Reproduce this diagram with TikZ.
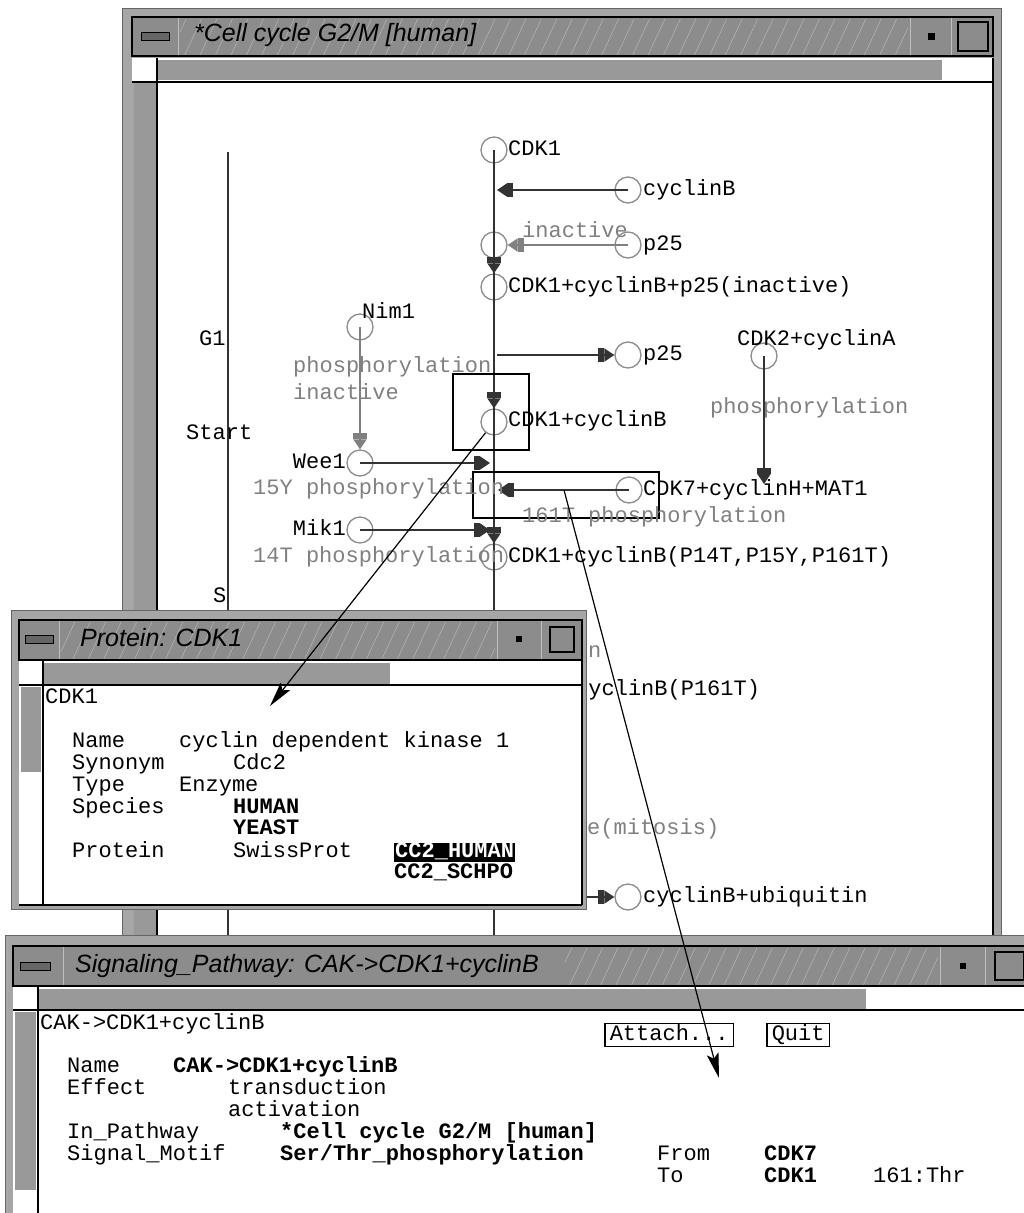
\documentclass[tikz,border=0pt]{standalone}
\usepackage{fontspec}
\setmonofont{Liberation Mono}
\setsansfont{Liberation Sans}
\usetikzlibrary{arrows.meta,patterns.meta}
\tikzset{
  spc/.style={circle,draw=black!45,line width=1.3pt,minimum size=26pt,inner sep=0pt},
  lbl/.style={font=\ttfamily\fontsize{22}{24}\selectfont,inner sep=0pt,text height=15pt,text depth=4pt,anchor=west},
  glbl/.style={lbl,text=black!50},
  blbl/.style={lbl,font=\ttfamily\bfseries\fontsize{22}{24}\selectfont},
  wtitle/.style={font=\sffamily\itshape\fontsize{25}{28}\selectfont,inner sep=0pt,anchor=west},
  link/.style={line width=1.5pt,draw=black!80},
  glink/.style={line width=1.5pt,draw=black!50},
  ract/.style={link,-{Rectangle[length=6pt,width=14pt]Triangle[length=10pt,width=13pt]}},
  gract/.style={glink,-{Rectangle[length=6pt,width=14pt]Triangle[length=10pt,width=13pt]}},
  pick/.style={line width=1.2pt,-{Stealth[length=25pt,width=12pt,inset=5pt]}},
  wframe/.style={fill=black!35,draw=black!60,line width=1pt},
  tbar/.style={fill=black!45,draw=black,line width=1.5pt},
  hatch/.style={pattern={Lines[angle=65,distance=14pt,line width=0.6pt]},pattern color=black!30},
  dither/.style={fill=black!40},
  sep/.style={draw=black!25,line width=1pt},
  hbox/.style={draw=black,line width=1.5pt},
  btn/.style={lbl,draw,line width=1.5pt,inner xsep=5pt,inner ysep=2pt}
}
\begin{document}
\begin{tikzpicture}[x=1pt,y=-1pt]
\clip (0,0) rectangle (1024,1213);
\fill[white] (0,0) rectangle (1024,1213);

% cell cycle window
\draw[wframe] (122,8) rectangle (1001,960);
\draw[tbar] (132,17) rectangle (993,56);
\fill[hatch] (180,19) rectangle (908,54);
\draw[sep] (178,18) -- (178,55) (910,18) -- (910,55) (951,18) -- (951,55);
\draw[fill=black!60,line width=1pt] (141,32) rectangle (169,40);
\node[wtitle] (mtitle) at (194,35) {*Cell cycle G2/M [human]};
\fill (928,33) rectangle (935,40);
\draw[line width=2pt,fill=black!45] (958,22) rectangle (988,51);
\fill[white] (132,58) rectangle (993,82);
\fill[dither] (157,60) rectangle (942,80);
\draw[line width=1.5pt] (132,82) -- (993,82);
\fill[white] (157,83) rectangle (993,960);
\fill[dither] (134,83) rectangle (156,960);
\draw[line width=1.5pt] (157,58) -- (157,960) (993,58) -- (993,960);

% phases
\draw[link] (228,152) -- (228,960);
\node[lbl] (g1) at (199,340) {G1};
\node[lbl] (start) at (186,434) {Start};
\node[lbl] (sph) at (213,597) {S};

% species
\node[spc] (cdk1) at (494,150) {};
\node[spc] (cplx) at (494,245) {};
\node[spc] (cbp) at (494,287) {};
\node[spc] (cb) at (494,422) {};
\node[spc] (cbp3) at (494,557) {};
\node[spc] (cycb) at (628,190) {};
\node[spc] (p25a) at (628,245) {};
\node[spc] (p25b) at (628,355) {};
\node[spc] (nim1) at (360,327) {};
\node[spc] (wee1) at (360,463) {};
\node[spc] (mik1) at (360,530) {};
\node[spc] (cdk7) at (629,490) {};
\node[spc] (cdk2) at (764,356) {};
\node[spc] (ubq) at (628,897) {};

\coordinate (bot) at (494,960);
\coordinate (rcyc) at (494,190);
\coordinate (rp25) at (494,355);
\coordinate (rwee) at (494,463);
\coordinate (rcak) at (494,490);
\coordinate (rmik) at (494,530);
\coordinate (rubq) at (494,897);
\coordinate (rcdk2) at (764,484);
\coordinate (r161) at (564,490);

\draw[link] (cdk1.center) -- (bot);
\draw[ract,shorten >=3pt] (cycb.center) -- (rcyc);
\draw[gract] (p25a.center) -- (cplx);
\draw[ract] (cplx) -- (cbp);
\draw[ract,shorten <=3pt] (rp25) -- (p25b);
\draw[ract] (cbp) -- (cb);
\draw[gract] (nim1.center) -- (wee1);
\draw[ract,shorten >=4pt] (wee1.center) -- (rwee);
\draw[ract,shorten >=4pt] (cdk7.center) -- (rcak);
\draw[ract,shorten >=4pt] (mik1.center) -- (rmik);
\draw[ract] (cb) -- (cbp3);
\draw[ract] (cdk2.center) -- (rcdk2);
\draw[ract] (rubq) -- (ubq);

\draw[hbox] (453,374) rectangle (529,450);
\draw[hbox] (473,472) rectangle (659,518);

\node[lbl] (tcdk1) at (508,150) {CDK1};
\node[lbl] (tcycb) at (643,190) {cyclinB};
\node[glbl] (tina) at (522,232) {inactive};
\node[lbl] (tp25a) at (643,245) {p25};
\node[lbl] (tcbp) at (508,287) {CDK1+cyclinB+p25(inactive)};
\node[lbl] (tnim1) at (362,313) {Nim1};
\node[lbl] (tp25b) at (643,355) {p25};
\node[lbl] (tcdk2) at (737,340) {CDK2+cyclinA};
\node[glbl] (tph1) at (293,367) {phosphorylation};
\node[glbl] (tina2) at (293,394) {inactive};
\node[glbl] (tph2) at (710,408) {phosphorylation};
\node[lbl] (tcb) at (508,421) {CDK1+cyclinB};
\node[lbl,anchor=east] (twee1) at (346,463) {Wee1};
\node[glbl] (t15y) at (253,489) {15Y phosphorylation};
\node[lbl] (tcdk7) at (643,490) {CDK7+cyclinH+MAT1};
\node[glbl] (t161) at (522,517) {161T phosphorylation};
\node[lbl,anchor=east] (tmik1) at (346,530) {Mik1};
\node[glbl] (t14t) at (253,557) {14T phosphorylation};
\node[lbl] (tcbp3) at (508,557) {CDK1+cyclinB(P14T,P15Y,P161T)};
\node[glbl] (tn) at (588,652) {n};
\node[lbl] (tp161) at (575,690) {cyclinB(P161T)};
\node[glbl] (tmit) at (587,829) {e(mitosis)};
\node[lbl] (tubq) at (643,897) {cyclinB+ubiquitin};

% protein window
\draw[wframe] (11,610) rectangle (586,909);
\draw[tbar] (19,620) rectangle (582,660);
\fill[hatch] (61,622) rectangle (495,658);
\draw[sep] (59,621) -- (59,659) (497,621) -- (497,659) (541,621) -- (541,659);
\draw[fill=black!60,line width=1pt] (25,635) rectangle (53,643);
\node[wtitle] (ptitle) at (80,638) {Protein: CDK1};
\fill (516,636) rectangle (522,642);
\draw[line width=2pt,fill=black!45] (550,627) rectangle (574,652);
\fill[white] (19,661) rectangle (582,905);
\fill[dither] (43,663) rectangle (390,684);
\fill[dither] (21,687) rectangle (41,772);
\draw[line width=1.5pt] (19,685) -- (582,685) (43,661) -- (43,905) (19,905) -- (582,905) (582,660) -- (582,905);

\node[lbl] (pname) at (45,698) {CDK1};
\node[lbl] (pk1) at (72,742) {Name};
\node[lbl] (pv1) at (179,742) {cyclin dependent kinase 1};
\node[lbl] (pk2) at (72,764) {Synonym};
\node[lbl] (pv2) at (233,764) {Cdc2};
\node[lbl] (pk3) at (72,786) {Type};
\node[lbl] (pv3) at (179,786) {Enzyme};
\node[lbl] (pk4) at (72,808) {Species};
\node[blbl] (pv4) at (233,808) {HUMAN};
\node[blbl] (pv5) at (233,829) {YEAST};
\node[lbl] (pk6) at (72,852) {Protein};
\node[lbl] (pv6) at (233,852) {SwissProt};
\node[blbl,fill=black,text=white,inner xsep=1pt] (pv7) at (394,852) {CC2\_HUMAN};
\node[blbl] (pv8) at (394,873) {CC2\_SCHPO};

% signaling pathway window
\draw[wframe] (5,935) rectangle (1030,1220);
\draw[tbar] (13,946) rectangle (1030,986);
\fill[hatch] (565,948) rectangle (938,984);
\draw[sep] (63,947) -- (63,985) (940,947) -- (940,985) (985,947) -- (985,985);
\draw[fill=black!60,line width=1pt] (20,962) rectangle (50,970);
\node[wtitle] (stitle) at (75,966) {Signaling\_Pathway: CAK->CDK1+cyclinB};
\fill (960,963) rectangle (966,969);
\draw[line width=2pt,fill=black!45] (995,952) rectangle (1024,980);
\fill[white] (13,987) rectangle (1030,1215);
\fill[dither] (38,989) rectangle (866,1009);
\fill[dither] (15,1012) rectangle (36,1190);
\draw[line width=1.5pt] (13,1010) -- (1030,1010) (38,987) -- (38,1215);

\node[lbl] (sname) at (40,1024) {CAK->CDK1+cyclinB};
\node[btn] (attach) at (604,1035) {Attach...};
\node[btn] (quit) at (766,1035) {Quit};
\node[lbl] (sk1) at (67,1067) {Name};
\node[blbl] (sv1) at (173,1067) {CAK->CDK1+cyclinB};
\node[lbl] (sk2) at (67,1089) {Effect};
\node[lbl] (sv2) at (228,1089) {transduction};
\node[lbl] (sv3) at (228,1111) {activation};
\node[lbl] (sk4) at (67,1133) {In\_Pathway};
\node[blbl] (sv4) at (280,1133) {*Cell cycle G2/M [human]};
\node[lbl] (sk5) at (67,1155) {Signal\_Motif};
\node[blbl] (sv5) at (280,1155) {Ser/Thr\_phosphorylation};
\node[lbl] (sfrom) at (657,1155) {From};
\node[blbl] (sv6) at (764,1155) {CDK7};
\node[lbl] (sto) at (657,1177) {To};
\node[blbl] (sv7) at (764,1177) {CDK1};
\node[lbl] (ssite) at (873,1177) {161:Thr};

% pointers
\coordinate (pend) at (270,706);
\coordinate (send) at (719,1078);
\draw[pick] (cb) -- (pend);
\draw[pick] (r161) -- (send);
\end{tikzpicture}
\end{document}
